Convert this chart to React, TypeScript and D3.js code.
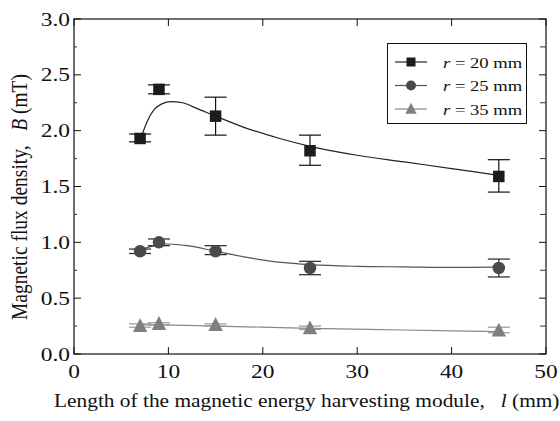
import * as d3 from 'd3';

// measured points
const lengths = [7, 9, 15, 25, 45];
const b20 = [1.93, 2.37, 2.13, 1.82, 1.59];
const b20Lo = [1.9, 2.33, 1.96, 1.69, 1.45];
const b20Hi = [1.97, 2.41, 2.3, 1.96, 1.74];
const b25 = [0.92, 1.0, 0.92, 0.77, 0.77];
const b25Lo = [0.9, 0.97, 0.89, 0.71, 0.69];
const b25Hi = [0.94, 1.03, 0.97, 0.83, 0.85];
const b35 = [0.25, 0.27, 0.26, 0.23, 0.21];
const b35Lo = [0.24, 0.26, 0.25, 0.22, 0.19];
const b35Hi = [0.27, 0.28, 0.27, 0.25, 0.24];

// fitted curves
const fitL20 = [7.2, 7.8, 8.5, 9.3, 10.3, 11.5, 13, 15, 18, 21.8, 25, 30, 35, 40, 45];
const fit20 = [1.96, 2.09, 2.19, 2.24, 2.26, 2.25, 2.2, 2.13, 2.03, 1.93, 1.86, 1.78, 1.72, 1.66, 1.6];
const fitL25 = [7, 8, 9, 10, 12, 15, 18, 22, 25, 30, 35, 40, 45];
const fit25 = [0.93, 0.96, 0.98, 0.985, 0.97, 0.92, 0.87, 0.82, 0.8, 0.785, 0.78, 0.775, 0.78];
const fitL35 = [7, 9, 15, 25, 35, 45];
const fit35 = [0.26, 0.26, 0.25, 0.23, 0.215, 0.2];

const xTicks = [0, 10, 20, 30, 40, 50];
const yTicks = [0, 0.5, 1.0, 1.5, 2.0, 2.5, 3.0];
const yMinor = [0.25, 0.75, 1.25, 1.75, 2.25, 2.75];
const seriesNames = ['20', '25', '35'];

const W = 560;
const H = 421;
const left = 74;
const right = 546;
const top = 19;
const bottom = 354;
const SX = 1.2; // the figure's text is stretched sideways
const FONT = '"Liberation Serif", "Times New Roman", serif';

const x = d3.scaleLinear().domain([0, 50]).range([left, right]);
const y = d3.scaleLinear().domain([0, 3]).range([bottom, top]);

const series = [
  { name: seriesNames[0], vals: b20, lo: b20Lo, hi: b20Hi, fl: fitL20, fv: fit20, fill: '#1c1c1c', line: '#222', bar: '#111', shape: 'square' },
  { name: seriesNames[1], vals: b25, lo: b25Lo, hi: b25Hi, fl: fitL25, fv: fit25, fill: '#4a4a4a', line: '#555', bar: '#222', shape: 'circle' },
  { name: seriesNames[2], vals: b35, lo: b35Lo, hi: b35Hi, fl: fitL35, fv: fit35, fill: '#7f7f7f', line: '#888', bar: '#999', shape: 'triangle' },
];

function Marker({ shape, cx, cy, fill, size }: { shape: string; cx: number; cy: number; fill: string; size: number }) {
  if (shape === 'square') {
    return <rect x={cx - size / 2} y={cy - size / 2} width={size} height={size} fill={fill} />;
  }
  if (shape === 'circle') {
    return <circle cx={cx} cy={cy} r={size / 2 + 0.5} fill={fill} />;
  }
  const s = size * 1.25;
  const p = `${cx},${cy - s * 0.55} ${cx + s / 2},${cy + s * 0.42} ${cx - s / 2},${cy + s * 0.42}`;
  return <polygon points={p} fill={fill} />;
}

export default function App() {
  const line = d3
    .line<number>()
    .curve(d3.curveMonotoneX);

  return (
    <svg width={W} height={H} style={{ position: 'absolute', left: 0, top: 0, background: '#fff' }} fontFamily={FONT}>
      {/* fitted curves */}
      {series.map((s) => (
        <path
          key={'fit' + s.name}
          d={line.x((_, i) => x(s.fl[i])).y((v) => y(v))(s.fv) || ''}
          fill="none"
          stroke={s.line}
          strokeWidth={1.2}
        />
      ))}

      {/* error bars + markers */}
      {series.map((s) => (
        <g key={'pts' + s.name}>
          {lengths.map((l, i) => {
            const cx = x(l);
            return (
              <g key={i}>
                <line x1={cx} x2={cx} y1={y(s.lo[i])} y2={y(s.hi[i])} stroke={s.bar} strokeWidth={1.2} />
                <line x1={cx - 11} x2={cx + 11} y1={y(s.lo[i])} y2={y(s.lo[i])} stroke={s.bar} strokeWidth={1.2} />
                <line x1={cx - 11} x2={cx + 11} y1={y(s.hi[i])} y2={y(s.hi[i])} stroke={s.bar} strokeWidth={1.2} />
                <Marker shape={s.shape} cx={cx} cy={y(s.vals[i])} fill={s.fill} size={11.5} />
              </g>
            );
          })}
        </g>
      ))}

      {/* frame */}
      <rect x={left} y={top} width={right - left} height={bottom - top} fill="none" stroke="#111" strokeWidth={1.2} />

      {/* x ticks */}
      {xTicks.map((t) => (
        <g key={'xt' + t}>
          <line x1={x(t)} x2={x(t)} y1={bottom} y2={bottom - 7} stroke="#111" />
          <line x1={x(t)} x2={x(t)} y1={top} y2={top + 7} stroke="#111" />
          <text transform={`translate(${x(t)},${bottom + 24}) scale(${SX},1)`} textAnchor="middle" fontSize={19.5} fill="#111">
            {t}
          </text>
        </g>
      ))}

      {/* y ticks */}
      {yTicks.map((t) => (
        <g key={'yt' + t}>
          <line x1={left} x2={left + 7} y1={y(t)} y2={y(t)} stroke="#111" />
          <line x1={right} x2={right - 7} y1={y(t)} y2={y(t)} stroke="#111" />
          <text transform={`translate(${left - 4},${y(t) + 6.5}) scale(${SX},1)`} textAnchor="end" fontSize={19.5} fill="#111">
            {d3.format('.1f')(t)}
          </text>
        </g>
      ))}
      {yMinor.map((t) => (
        <g key={'ym' + t}>
          <line x1={left} x2={left + 3} y1={y(t)} y2={y(t)} stroke="#333" />
          <line x1={right} x2={right - 6} y1={y(t)} y2={y(t)} stroke="#333" />
        </g>
      ))}

      {/* axis titles */}
      <text transform={`translate(54,407) scale(${SX},1)`} fontSize={17.8} fill="#111">
        Length of the magnetic energy harvesting module,{'\u00a0\u00a0\u00a0'}
        <tspan fontStyle="italic">l</tspan> (mm)
      </text>
      <text transform={`translate(27,197) scale(${SX},1) rotate(-90)`} textAnchor="middle" fontSize={19.5} fill="#111">
        Magnetic flux density,{'\u00a0\u00a0\u00a0'}
        <tspan fontStyle="italic">B</tspan> (mT)
      </text>

      {/* legend */}
      <rect x={387.5} y={43.5} width={139} height={80} fill="#fff" stroke="#111" strokeWidth={1} />
      {series.map((s, i) => {
        const ly = 62 + i * 23.5;
        return (
          <g key={'lg' + s.name}>
            <line x1={395} x2={427} y1={ly} y2={ly} stroke={s.line} strokeWidth={1.2} />
            <Marker shape={s.shape} cx={411} cy={ly} fill={s.fill} size={9} />
            <text transform={`translate(443,${ly + 5.5}) scale(${SX},1)`} fontSize={15.5} fill="#111">
              <tspan fontStyle="italic">r</tspan> = {s.name} mm
            </text>
          </g>
        );
      })}
    </svg>
  );
}
